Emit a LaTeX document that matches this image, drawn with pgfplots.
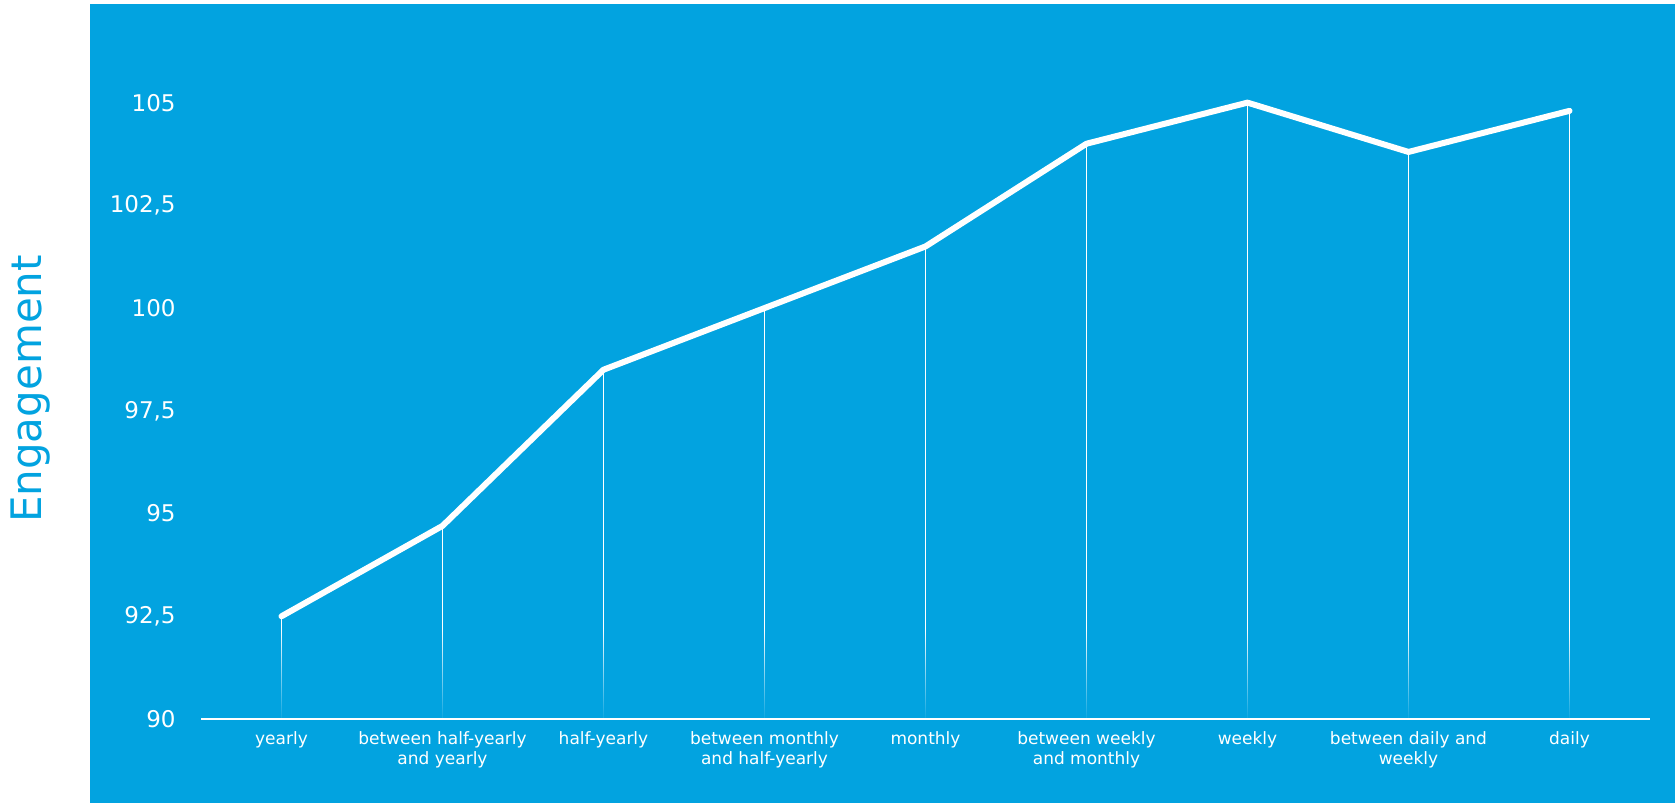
\documentclass[border=0pt]{standalone}
\usepackage{fontspec}
\setmainfont{DejaVu Sans}
\usepackage{pgfplots}
\pgfplotsset{compat=1.18}
\usetikzlibrary{fadings}
\definecolor{bgblue}{RGB}{2,163,224}
\pgfplotstableread{
x y
0 92.5
1 94.7
2 98.5
3 100.0
4 101.5
5 104.0
6 105.0
7 103.8
8 104.8
}\datatable
\begin{document}
\begin{tikzpicture}[x=1pt,y=1pt]
\fill[white] (0,0) rectangle (837.5,401.5);
\fill[bgblue] (45,0) rectangle (837.5,399.5);
\node[rotate=90, text=bgblue, font=\fontsize{21}{24}\selectfont, inner sep=0pt] at (15.5,207) {Engagement};
\begin{axis}[
  at={(100.5pt,42pt)}, anchor=south west,
  scale only axis, width=724.5pt, height=339pt,
  xmin=-0.5, xmax=8.5, ymin=90, ymax=106.5,
  axis lines=left,
  axis line style={-},
  x axis line style={white, line width=1pt},
  y axis line style={draw=none},
  axis on top,
  major tick length=0pt,
  xtick={0,...,8},
  xticklabels={yearly,{between half-yearly\\and yearly},half-yearly,{between monthly\\and half-yearly},monthly,{between weekly\\and monthly},weekly,{between daily and\\weekly},daily},
  xticklabel style={align=center, text=white, font=\fontsize{8.5}{10}\selectfont, anchor=north, yshift=-3pt},
  ytick={90,92.5,95,97.5,100,102.5,105},
  yticklabel style={text=white, font=\fontsize{11.5}{13}\selectfont, anchor=east, inner sep=0pt, xshift=-12.5pt},
  /pgf/number format/use comma,
  /pgf/number format/assume math mode=true,
]
\addplot[white, line width=0.75pt, ycomb, forget plot] table {\datatable};
\fill[bgblue, path fading=north] (axis cs:-0.5,89.9) rectangle (axis cs:8.5,92.2);
\addplot[white, line width=3pt, line cap=round, line join=round] table {\datatable};
\end{axis}
\end{tikzpicture}
\end{document}
